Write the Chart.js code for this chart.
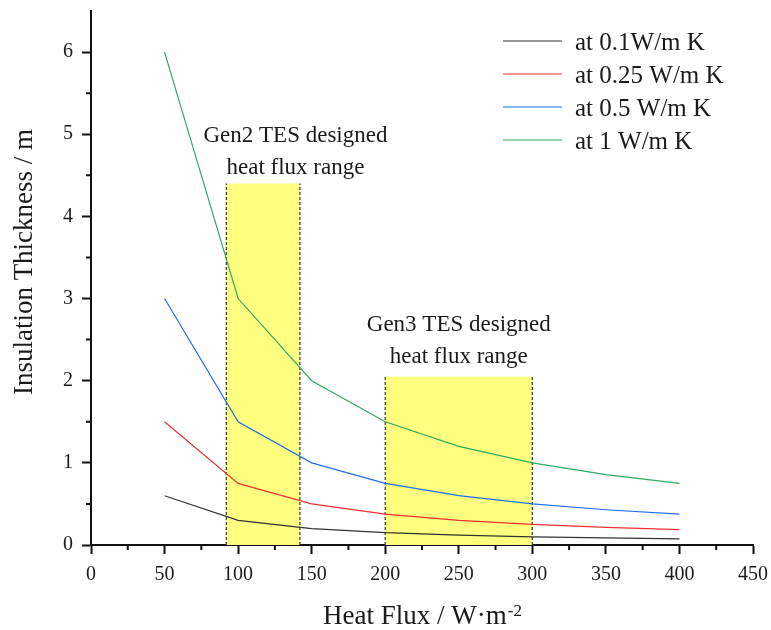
<!DOCTYPE html>
<html>
<head>
<meta charset="utf-8">
<style>
  html, body { margin: 0; padding: 0; background: #fff; }
  #wrap { width: 771px; height: 630px; position: relative; }
</style>
<script src="https://cdn.jsdelivr.net/npm/chart.js"></script>
</head>
<body>
<div id="wrap"><canvas id="chart"></canvas></div>
<script>
const FONT = "'Liberation Serif', 'DejaVu Serif', serif";

// heat flux (W/m2) and insulation thickness (m) for each conductivity
const heatFlux = [50, 100, 150, 200, 250, 300, 350, 400];
const k01 = [0.6, 0.3, 0.2, 0.15, 0.12, 0.1, 0.086, 0.075];
const k025 = [1.5, 0.75, 0.5, 0.375, 0.3, 0.25, 0.214, 0.188];
const k05 = [3, 1.5, 1, 0.75, 0.6, 0.5, 0.429, 0.375];
const k1 = [6, 3, 2, 1.5, 1.2, 1, 0.857, 0.75];

const seriesNames = ["at 0.1W/m K", "at 0.25 W/m K", "at 0.5 W/m K", "at 1 W/m K"];
const seriesColors = ["#333333", "#f03030", "#1f6fe8", "#2eaa62"];

// designed heat flux windows: [from, to], height
const gen2Range = [92, 142];
const gen2Top = 4.4;
const gen3Range = [200, 300];
const gen3Top = 2.05;
const gen2Label = ["Gen2 TES designed", "heat flux range"];
const gen3Label = ["Gen3 TES designed", "heat flux range"];
const gen2LabelAt = [139, 4.9];
const gen3LabelAt = [250, 2.6];

const xTicks = [0, 50, 100, 150, 200, 250, 300, 350, 400, 450];
const yTicks = [0, 1, 2, 3, 4, 5, 6];

const toPoints = ys => heatFlux.map((x, i) => ({ x, y: ys[i] }));

const datasets = [k01, k025, k05, k1].map((ys, i) => ({
  label: seriesNames[i],
  data: toPoints(ys),
  borderColor: seriesColors[i],
  backgroundColor: seriesColors[i],
  borderWidth: 1.2,
  pointRadius: 0,
  tension: 0
}));

// yellow boxes with dashed sides, drawn under the curves
const rangeBoxes = {
  id: "rangeBoxes",
  beforeDatasetsDraw(chart) {
    const { ctx, scales: { x, y } } = chart;
    const boxes = [[gen2Range, gen2Top], [gen3Range, gen3Top]];
    ctx.save();
    boxes.forEach(([r, top]) => {
      const x0 = x.getPixelForValue(r[0]);
      const x1 = x.getPixelForValue(r[1]);
      const y0 = y.getPixelForValue(0);
      const y1 = y.getPixelForValue(top);
      ctx.fillStyle = "#ffff80";
      ctx.fillRect(x0, y1, x1 - x0, y0 - y1);
      ctx.strokeStyle = "#444";
      ctx.lineWidth = 1.3;
      ctx.setLineDash([3, 2]);
      ctx.beginPath();
      ctx.moveTo(x0, y0); ctx.lineTo(x0, y1);
      ctx.moveTo(x1, y0); ctx.lineTo(x1, y1);
      ctx.stroke();
    });
    ctx.restore();
  }
};

// minor ticks, annotations, legend and axis titles
const extras = {
  id: "extras",
  afterDraw(chart) {
    const { ctx, chartArea: a, scales: { x, y } } = chart;
    ctx.save();

    ctx.strokeStyle = "#111";
    ctx.lineWidth = 2;
    ctx.setLineDash([]);
    ctx.beginPath();
    for (let v = 25; v < 450; v += 50) {
      const px = x.getPixelForValue(v);
      ctx.moveTo(px, a.bottom); ctx.lineTo(px, a.bottom + 5);
    }
    for (let v = 0.5; v < 6.5; v += 1) {
      const py = y.getPixelForValue(v);
      ctx.moveTo(a.left, py); ctx.lineTo(a.left - 5, py);
    }
    ctx.stroke();

    ctx.fillStyle = "#1a1a1a";
    ctx.font = "23px " + FONT;
    ctx.textAlign = "center";
    ctx.textBaseline = "alphabetic";
    [[gen2Label, gen2LabelAt], [gen3Label, gen3LabelAt]].forEach(([lines, at]) => {
      const px = x.getPixelForValue(at[0]);
      const py = y.getPixelForValue(at[1]);
      lines.forEach((t, i) => ctx.fillText(t, px, py + i * 31.5));
    });

    // legend
    ctx.font = "25px " + FONT;
    ctx.textAlign = "left";
    chart.data.datasets.forEach((ds, i) => {
      const ry = 41 + i * 33;
      ctx.strokeStyle = ds.borderColor;
      ctx.lineWidth = 1.2;
      ctx.beginPath();
      ctx.moveTo(503, ry); ctx.lineTo(562, ry);
      ctx.stroke();
      ctx.fillText(ds.label, 575, ry + 8.5);
    });

    // x title with superscript
    const main = "Heat Flux / W\u00b7m";
    const sup = "-2";
    ctx.font = "27px " + FONT;
    const wMain = ctx.measureText(main).width;
    ctx.font = "17px " + FONT;
    const wSup = ctx.measureText(sup).width;
    const cx = (a.left + a.right) / 2;
    const sx = cx - (wMain + wSup) / 2;
    ctx.font = "27px " + FONT;
    ctx.fillText(main, sx, 624);
    ctx.font = "17px " + FONT;
    ctx.fillText(sup, sx + wMain + 1, 616);

    // y title
    ctx.font = "27px " + FONT;
    ctx.translate(32, 262);
    ctx.rotate(-Math.PI / 2);
    ctx.textAlign = "center";
    ctx.fillText("Insulation Thickness / m", 0, 0);

    ctx.restore();
  }
};

const axisGrid = {
  drawOnChartArea: false,
  drawTicks: true,
  tickLength: 9,
  tickWidth: 2,
  tickColor: "#111"
};

new Chart(document.getElementById("chart"), {
  type: "line",
  data: { datasets },
  options: {
    responsive: true,
    maintainAspectRatio: false,
    animation: false,
    layout: { padding: { top: 11, right: 18, left: 0, bottom: 0 } },
    plugins: { legend: { display: false }, tooltip: { enabled: false } },
    scales: {
      x: {
        type: "linear",
        min: 0,
        max: 450,
        afterBuildTicks: s => { s.ticks = xTicks.map(value => ({ value })); },
        ticks: { font: { family: FONT, size: 20 }, color: "#1a1a1a", padding: 9, maxRotation: 0 },
        grid: axisGrid,
        border: { color: "#111", width: 2 },
        afterFit: s => { s.height = 85; s.paddingLeft = 0; s.paddingRight = 0; }
      },
      y: {
        type: "linear",
        min: 0,
        max: 6.5,
        afterBuildTicks: s => { s.ticks = yTicks.map(value => ({ value })); },
        ticks: { font: { family: FONT, size: 20 }, color: "#1a1a1a", padding: 9 },
        grid: axisGrid,
        border: { color: "#111", width: 2 },
        afterFit: s => { s.width = 91; s.paddingTop = 0; s.paddingBottom = 0; }
      }
    }
  },
  plugins: [rangeBoxes, extras]
});
</script>
</body>
</html>
